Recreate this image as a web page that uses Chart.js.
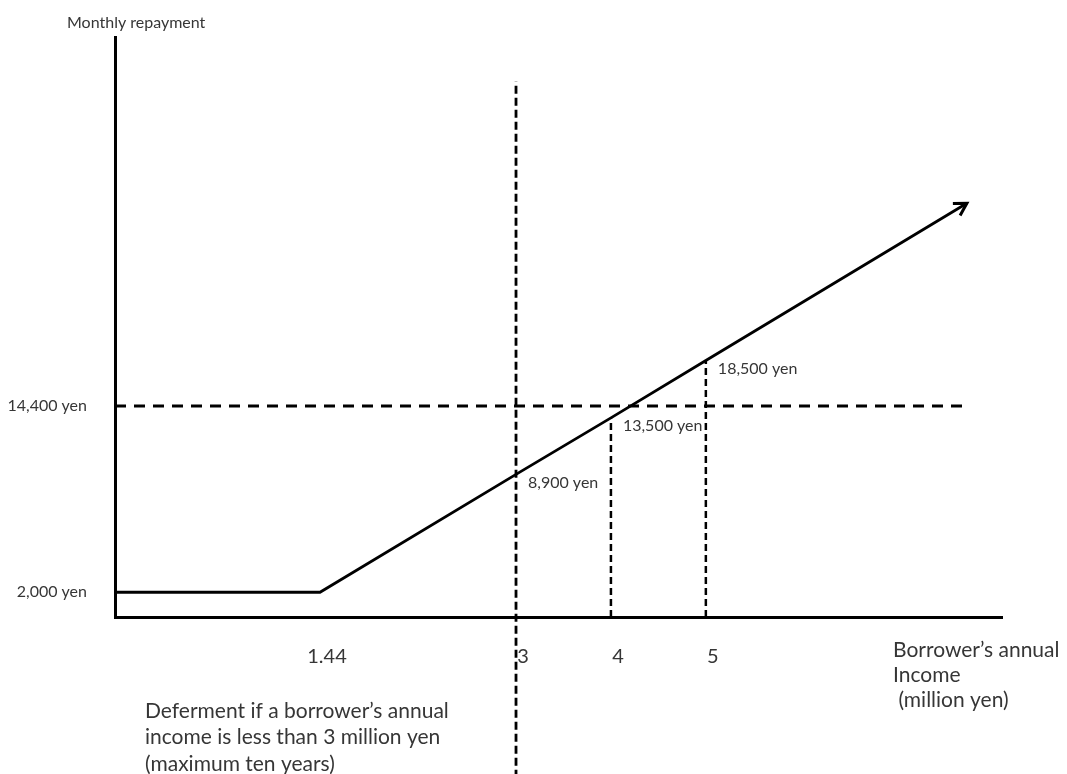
<!DOCTYPE html>
<html>
<head>
<meta charset="utf-8">
<script src="https://cdn.jsdelivr.net/npm/chart.js"></script>
<style>
  html, body { margin: 0; padding: 0; background: #ffffff; overflow: hidden; }
  #wrap { width: 1067px; height: 774px; position: relative; }
</style>
</head>
<body>
<div id="wrap"><canvas id="c"></canvas></div>
<script>
// ---------- data ----------
const incomeMillionYen    = [0, 1.44, 3, 4, 5, 7.75];
const monthlyRepaymentYen = [2000, 2000, 8900, 13500, 18500, 31400];

const xTickValues = [1.44, 3, 4, 5];
const xTickLabels = ['1.44', '3', '4', '5'];
const yTickValues = [2000, 14400];
const yTickLabels = ['2,000 yen', '14,400 yen'];

const markedIncomes    = [3, 4, 5];
const markedRepayments = [8900, 13500, 18500];
const markedLabels     = ['8,900 yen', '13,500 yen', '18,500 yen'];

const thresholdRepayment = 14400;          // horizontal dashed line
const thresholdIncomeSpan = [0, 7.78];     // its extent along income
const deferIncome = 3;                     // vertical dashed line (deferment limit)
const deferRepaymentSpan = [-13000, 41400];// its extent along repayment

const yAxisTitle = 'Monthly repayment';
const xAxisTitleLines = ['Borrower\u2019s annual', 'Income', ' (million yen)'];
const noteLines = ['Deferment if a borrower\u2019s annual', 'income is less than 3 million yen', '(maximum ten years)'];

// ---------- schematic (non-uniform) scale ----------
const scaleAnchors = {
  x: [[0, 0], [1.44, 0.2311], [3, 0.4521], [8.12, 1]],
  y: [[0, 0], [2000, 0.0427], [8900, 0.2462], [13500, 0.3436], [14400, 0.3641], [18500, 0.4427], [45000, 1]]
};
const BaseLinear = Chart.LinearScale || Chart.registry.getScale('linear');
class PiecewiseScale extends BaseLinear {
  _anchors() { return scaleAnchors[this.id]; }
  _toDecimal(v) {
    const a = this._anchors();
    let i = 1;
    while (i < a.length - 1 && v > a[i][0]) i++;
    const p = a[i - 1], q = a[i];
    return p[1] + (v - p[0]) * (q[1] - p[1]) / (q[0] - p[0]);
  }
  getPixelForValue(value) {
    if (value === null || value === undefined || isNaN(value)) return NaN;
    return this.getPixelForDecimal(this._toDecimal(+value));
  }
  getValueForPixel(pixel) {
    const d = this.getDecimalForPixel(pixel);
    const a = this._anchors();
    let i = 1;
    while (i < a.length - 1 && d > a[i][1]) i++;
    const p = a[i - 1], q = a[i];
    return p[0] + (d - p[1]) * (q[0] - p[0]) / (q[1] - p[1]);
  }
}
PiecewiseScale.id = 'piecewise';
PiecewiseScale.defaults = BaseLinear.defaults;
Chart.register(PiecewiseScale);

// ---------- helpers to build datasets from the arrays ----------
const pts = (xs, ys) => xs.map((x, i) => ({ x: x, y: ys[i] }));
const TEXT = '#363636';
const FONT = 'Lato, "Open Sans", sans-serif';

const datasets = [
  { label: 'repayment', data: pts(incomeMillionYen, monthlyRepaymentYen),
    borderColor: '#000', borderWidth: 2.8, pointRadius: 0, tension: 0, clip: false },
  { label: 'threshold', data: pts(thresholdIncomeSpan, [thresholdRepayment, thresholdRepayment]),
    borderColor: '#000', borderWidth: 3, borderDash: [11, 8], pointRadius: 0, clip: false },
  { label: 'defer', data: pts([deferIncome, deferIncome], deferRepaymentSpan),
    borderColor: '#000', borderWidth: 2.8, borderDash: [8, 4], pointRadius: 0, clip: false }
];
markedIncomes.forEach((inc, i) => {
  if (inc === deferIncome) return;
  datasets.push({ label: 'mark' + i, data: pts([inc, inc], [0, markedRepayments[i]]),
    borderColor: '#000', borderWidth: 2.5, borderDash: [7, 4], pointRadius: 0, clip: false });
});

// ---------- plugins ----------
const arrowPlugin = {
  id: 'arrowHead',
  afterDatasetsDraw(chart) {
    const meta = chart.getDatasetMeta(0);
    const n = meta.data.length;
    const a = meta.data[n - 2], b = meta.data[n - 1];
    const ang = Math.atan2(b.y - a.y, b.x - a.x);
    const len = 14, spread = Math.PI / 6;
    const ctx = chart.ctx;
    ctx.save();
    ctx.strokeStyle = '#000';
    ctx.lineWidth = 3;
    ctx.lineJoin = 'miter';
    ctx.beginPath();
    ctx.moveTo(b.x - len * Math.cos(ang - spread), b.y - len * Math.sin(ang - spread));
    ctx.lineTo(b.x, b.y);
    ctx.lineTo(b.x - len * Math.cos(ang + spread), b.y - len * Math.sin(ang + spread));
    ctx.stroke();
    ctx.restore();
  }
};

const textPlugin = {
  id: 'texts',
  afterDraw(chart) {
    const ctx = chart.ctx, ca = chart.chartArea;
    const xs = chart.scales.x, ys = chart.scales.y;
    ctx.save();
    ctx.fillStyle = TEXT;
    ctx.textBaseline = 'middle';
    ctx.textAlign = 'left';
    // y axis title
    ctx.font = '16px ' + FONT;
    ctx.fillText(yAxisTitle, ca.left - 48, ca.top - 15);
    // value labels
    ctx.font = '16px ' + FONT;
    markedIncomes.forEach((inc, i) => {
      ctx.fillText(markedLabels[i], xs.getPixelForValue(inc) + 12, ys.getPixelForValue(markedRepayments[i]) + 8);
    });
    // x axis title
    ctx.font = '21px ' + FONT;
    xAxisTitleLines.forEach((t, i) => ctx.fillText(t, ca.right - 109, ca.bottom + 33 + i * 25));
    // note
    noteLines.forEach((t, i) => ctx.fillText(t, ca.left + 30, ca.bottom + 94 + i * 26.5));
    ctx.restore();
  }
};

new Chart(document.getElementById('c'), {
  type: 'line',
  data: { datasets: datasets },
  options: {
    responsive: true,
    maintainAspectRatio: false,
    animation: false,
    layout: { padding: { top: 32, right: 65, bottom: 0, left: 0 } },
    plugins: { legend: { display: false }, tooltip: { enabled: false }, title: { display: false } },
    scales: {
      x: {
        type: 'piecewise', min: 0, max: 8.12,
        grid: { display: false, drawTicks: false },
        border: { display: true, color: '#000', width: 3 },
        afterBuildTicks: s => { s.ticks = xTickValues.map(v => ({ value: v })); },
        afterFit: s => { s.height = 157; },
        ticks: { autoSkip: false, maxRotation: 0, padding: 28, labelOffset: 7, color: TEXT,
                 font: { family: FONT, size: 20 },
                 callback: (v, i) => xTickLabels[i] }
      },
      y: {
        type: 'piecewise', min: 0, max: 45000,
        grid: { display: false, drawTicks: false },
        border: { display: true, color: '#000', width: 3 },
        afterBuildTicks: s => { s.ticks = yTickValues.map(v => ({ value: v })); },
        afterFit: s => { s.width = 115; },
        ticks: { autoSkip: false, padding: 28, color: TEXT,
                 font: { family: FONT, size: 16 },
                 callback: (v, i) => yTickLabels[i] }
      }
    }
  },
  plugins: [arrowPlugin, textPlugin]
});
</script>
</body>
</html>
